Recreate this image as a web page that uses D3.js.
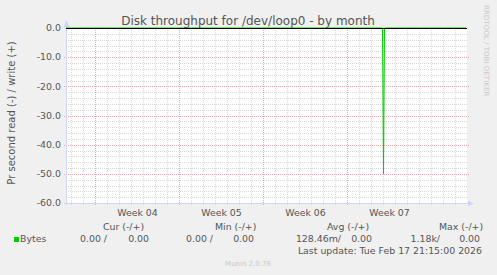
<!DOCTYPE html>
<meta charset="utf-8">
<style>
  body { margin: 0; background: #f0f0f0; }
  svg { display: block; font-family: "DejaVu Sans", sans-serif; }
  text { fill: #555; }
</style>
<svg width="497" height="275"></svg>
<script src="https://d3js.org/d3.v7.min.js"></script>
<script>

// --- data ---
var timeDomain = ["2026-01-15T13:00", "2026-02-17T21:00"];
var readTimes  = ["2026-01-15T13:00", "2026-02-10T22:00", "2026-02-11T00:00", "2026-02-11T02:00", "2026-02-17T21:00"];
var readValues = [0, 0, -50, 0, 0];
var weekStarts = ["2026-01-18", "2026-01-25", "2026-02-01", "2026-02-08"];
var weekLabels = ["Week 04", "Week 05", "Week 06", "Week 07"];
var yTicks = [0, -10, -20, -30, -40, -50, -60];

var legendHeads = ["Cur (-/+)", "Min (-/+)", "Avg (-/+)", "Max (-/+)"];
var readStats  = ["0.00 /", "0.00 /", "128.46m/", "1.18k/"];
var writeStats = ["0.00", "0.00", "0.00", "0.00"];

var parse = d3.utcParse("%Y-%m-%dT%H:%M"),
    parseDay = d3.utcParse("%Y-%m-%d");

var svg = d3.select("svg");

var x = d3.scaleUtc()
    .domain(timeDomain.map(parse))
    .range([66, 466]);

var y = d3.scaleLinear()
    .domain([-60, 0])
    .range([203, 28]);

var x0 = x.range()[0], x1 = x.range()[1] + 1,
    yTop = y(0), yBot = y(-60);

// canvas
svg.append("rect")
    .attr("x", x0).attr("y", yTop)
    .attr("width", x1 - x0).attr("height", yBot - yTop)
    .attr("fill", "#fff");

var grid = svg.append("g").attr("shape-rendering", "crispEdges");

// minor grid: days and every 2 units
grid.selectAll(".vminor")
  .data(d3.utcDay.range(x.domain()[0], x.domain()[1]))
  .enter().append("line")
    .attr("x1", function(d) { return Math.floor(x(d)) + 0.5; })
    .attr("x2", function(d) { return Math.floor(x(d)) + 0.5; })
    .attr("y1", yTop).attr("y2", yBot + 2)
    .attr("stroke", "#d8d8d8")
    .attr("stroke-dasharray", "1,1");

grid.selectAll(".hminor")
  .data(d3.range(-58, 0, 2))
  .enter().append("line")
    .attr("x1", x0).attr("x2", x1 + 1)
    .attr("y1", function(d) { return Math.round(y(d)) + 0.5; })
    .attr("y2", function(d) { return Math.round(y(d)) + 0.5; })
    .attr("stroke", "#d8d8d8")
    .attr("stroke-dasharray", "1,1");

// major grid: weeks and every 10 units
grid.selectAll(".vmajor")
  .data(weekStarts.map(parseDay))
  .enter().append("line")
    .attr("x1", function(d) { return Math.floor(x(d)) + 0.5; })
    .attr("x2", function(d) { return Math.floor(x(d)) + 0.5; })
    .attr("y1", yTop).attr("y2", yBot + 3)
    .attr("stroke", "#eeaaaa")
    .attr("stroke-dasharray", "1,1");

grid.selectAll(".hmajor")
  .data(yTicks.slice(1))
  .enter().append("line")
    .attr("x1", x0 - 2).attr("x2", x1 + 2)
    .attr("y1", function(d) { return Math.round(y(d)) + 0.5; })
    .attr("y2", function(d) { return Math.round(y(d)) + 0.5; })
    .attr("stroke", "#eeaaaa")
    .attr("stroke-dasharray", "1,1");

// axes (light blue) with arrows
var axisCol = "#cfd6f8";
svg.append("line")
    .attr("x1", x0 + 0.5).attr("x2", x0 + 0.5)
    .attr("y1", yBot + 2).attr("y2", yTop - 5)
    .attr("stroke", axisCol);
svg.append("line")
    .attr("x1", x0 - 2).attr("x2", x1 + 3)
    .attr("y1", yBot + 0.5).attr("y2", yBot + 0.5)
    .attr("stroke", axisCol);
svg.append("path")
    .attr("d", "M" + (x0 - 2.5) + "," + (yTop - 1) + "L" + (x0 + 0.5) + "," + (yTop - 8) + "L" + (x0 + 3.5) + "," + (yTop - 1) + "Z")
    .attr("fill", axisCol);
svg.append("path")
    .attr("d", "M" + (x1 + 1) + "," + (yBot - 2.5) + "L" + (x1 + 7) + "," + (yBot + 0.5) + "L" + (x1 + 1) + "," + (yBot + 3.5) + "Z")
    .attr("fill", axisCol);

// data line
var line = d3.line()
    .x(function(d, i) { return x(parse(readTimes[i])); })
    .y(function(d) { return y(d); });

svg.append("path")
    .datum(readValues)
    .attr("fill", "none")
    .attr("stroke", "#00cc00")
    .attr("stroke-width", 1)
    .attr("d", line);

// black zero rule
svg.append("line")
    .attr("x1", x0).attr("x2", x1)
    .attr("y1", y(0) + 0.5).attr("y2", y(0) + 0.5)
    .attr("stroke", "#000");

// y tick labels
svg.selectAll(".ylab")
  .data(yTicks)
  .enter().append("text")
    .attr("x", x0 - 5)
    .attr("y", function(d) { return y(d); })
    .attr("dy", "0.35em")
    .attr("text-anchor", "end")
    .attr("font-size", 9.4)
    .text(function(d) { return d.toFixed(1); });

// week labels centred in their week
svg.selectAll(".xlab")
  .data(weekLabels)
  .enter().append("text")
    .attr("x", function(d, i) { return x(d3.utcHour.offset(parseDay(weekStarts[i]), 84)); })
    .attr("y", 216)
    .attr("text-anchor", "middle")
    .attr("font-size", 9.4)
    .text(function(d) { return d; });

// title
svg.append("text")
    .attr("x", 248).attr("y", 25)
    .attr("text-anchor", "middle")
    .attr("font-size", 12)
    .text("Disk throughput for /dev/loop0 - by month");

// y axis title
svg.append("text")
    .attr("transform", "translate(15,113) rotate(-90)")
    .attr("text-anchor", "middle")
    .attr("font-size", 10)
    .text("Pr second read (-) / write (+)");

// watermark
svg.append("text")
    .attr("transform", "translate(484,5) rotate(90)")
    .attr("font-size", 7.1)
    .style("fill", "#c8c8c8")
    .text("RRDTOOL / TOBI OETIKER");

// legend
var headX = [103, 215, 327, 439],
    readEnd = [107, 213, 341, 440],
    writeEnd = [149, 254, 372, 480];

var legend = svg.append("g").attr("font-size", 9.4);

legend.selectAll(".head")
  .data(legendHeads)
  .enter().append("text")
    .attr("x", function(d, i) { return headX[i]; })
    .attr("y", 230)
    .text(function(d) { return d; });

legend.append("rect")
    .attr("x", 14).attr("y", 237)
    .attr("width", 5).attr("height", 5)
    .attr("fill", "#00cc00");
legend.append("text")
    .attr("x", 20).attr("y", 242)
    .text("Bytes");

legend.selectAll(".rd")
  .data(readStats)
  .enter().append("text")
    .attr("x", function(d, i) { return readEnd[i]; })
    .attr("y", 242)
    .attr("text-anchor", "end")
    .text(function(d) { return d; });

legend.selectAll(".wr")
  .data(writeStats)
  .enter().append("text")
    .attr("x", function(d, i) { return writeEnd[i]; })
    .attr("y", 242)
    .attr("text-anchor", "end")
    .text(function(d) { return d; });

legend.append("text")
    .attr("x", 482).attr("y", 254)
    .attr("text-anchor", "end")
    .text("Last update: Tue Feb 17 21:15:00 2026");

svg.append("text")
    .attr("x", 248).attr("y", 266)
    .attr("text-anchor", "middle")
    .attr("font-size", 7)
    .style("fill", "#c8c8c8")
    .text("Munin 2.0.76");

</script>
